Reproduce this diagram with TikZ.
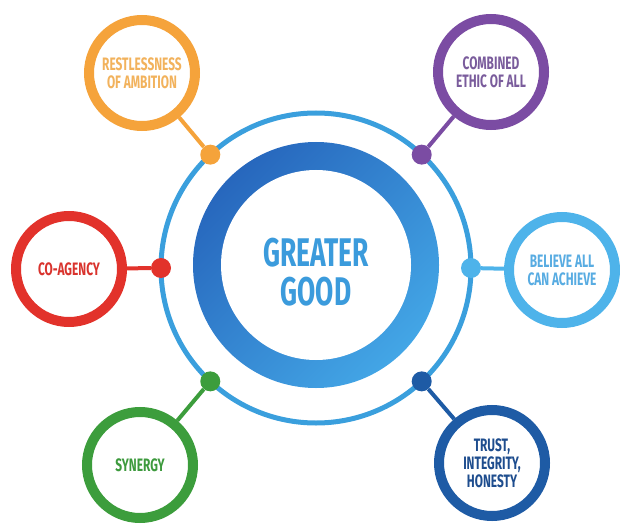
\documentclass[tikz,border=0pt]{standalone}
\usepackage{fontspec}
\newfontfamily\tagfont[FakeStretch=0.66]{Fira Sans}
\usetikzlibrary{shapes.geometric}

\definecolor{ringBlue}{HTML}{3A9FDD}
\definecolor{coreDark}{HTML}{2767BD}
\definecolor{coreLight}{HTML}{43A6E6}
\definecolor{coreText}{HTML}{3B9BDC}
\definecolor{ambRing}{HTML}{F5A33B}
\definecolor{ambText}{HTML}{F2B25C}
\definecolor{ethRing}{HTML}{7B4CA3}
\definecolor{ethText}{HTML}{7A5C9C}
\definecolor{agcRing}{HTML}{E2322B}
\definecolor{agcText}{HTML}{D9332D}
\definecolor{belRing}{HTML}{4EB3EA}
\definecolor{belText}{HTML}{58ACE2}
\definecolor{synRing}{HTML}{3C9D3C}
\definecolor{synText}{HTML}{3D9A3D}
\definecolor{truRing}{HTML}{1E5BA5}
\definecolor{truText}{HTML}{1E4D8E}

\tikzset{
    bubble/.style={circle, fill=white, draw=#1, line width=10pt, minimum size=106pt,
        inner sep=0pt, align=center, font=\tagfont\bfseries\fontsize{18}{18}\selectfont},
    knob/.style={circle, fill=#1, minimum size=20pt, inner sep=0pt},
    link/.style={draw=#1, line width=4pt}
}

\begin{document}
\begin{tikzpicture}[x=1pt, y=-1pt]
    \useasboundingbox (0,0) rectangle (620,529);

    % Outer thin ring
    \node[circle, draw=ringBlue, line width=5pt, minimum size=310pt, outer sep=0pt] (ring) at (316,268) {};

    % Core disc
    \shade[top color=coreDark, bottom color=coreLight, shading angle=45] (316,265) circle (123);
    \fill[white] (316,265) circle (95);
    \node[font=\tagfont\bfseries\fontsize{40}{39}\selectfont, text=coreText, align=center] (core) at (316,272) {GREATER\\GOOD};

    % Satellites
    \node[bubble=ambRing, text=ambText] (amb) at (142,73) {RESTLESSNESS\\OF AMBITION};
    \node[bubble=ethRing, text=ethText] (eth) at (491,72) {COMBINED\\ETHIC OF ALL};
    \node[bubble=agcRing, text=agcText] (agc) at (69,269) {CO-AGENCY};
    \node[bubble=belRing, text=belText] (bel) at (562,270) {BELIEVE ALL\\CAN ACHIEVE};
    \node[bubble=synRing, text=synText] (syn) at (140,465) {SYNERGY};
    \node[bubble=truRing, text=truText] (tru) at (492,463) {TRUST,\\INTEGRITY,\\HONESTY};

    % Knobs on the ring
    \node[knob=ambRing] (kamb) at (ring.133) {};
    \node[knob=ethRing] (keth) at (ring.47) {};
    \node[knob=agcRing] (kagc) at (ring.180) {};
    \node[knob=belRing] (kbel) at (ring.0) {};
    \node[knob=synRing] (ksyn) at (ring.227) {};
    \node[knob=truRing] (ktru) at (ring.313) {};

    % Links
    \draw[link=ambRing] (amb) -- (kamb);
    \draw[link=ethRing] (eth) -- (keth);
    \draw[link=agcRing] (agc) -- (kagc);
    \draw[link=belRing] (bel) -- (kbel);
    \draw[link=synRing] (syn) -- (ksyn);
    \draw[link=truRing] (tru) -- (ktru);

\end{tikzpicture}
\end{document}
